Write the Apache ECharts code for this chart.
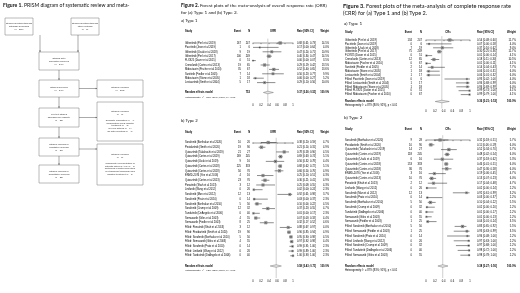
<!DOCTYPE html>
<html>
<head>
<meta charset="utf-8">
<script src="https://cdn.jsdelivr.net/npm/echarts@6/dist/echarts.min.js"></script>
<style>
  html, body { margin: 0; padding: 0; background: #fff; }
  #chart { width: 520px; height: 293px; }
</style>
</head>
<body>
<div id="chart"></div>
<script>
// ===== Figure 2a : ORR, type 1 =====
const studies2a = ['Gilteritinib (Perl et al 2019)', 'Pacritinib (Jeon et al 2019)', 'Gilteritinib (Usuki et al 2018)',
  'Gilteritinib (Perl et al 2017)', 'FLX925 (Daver et al 2015)', 'Crenolanib (Cortes et al 2013)',
  'Midostaurin (Fischer et al 2010)', 'Sunitinib (Fiedler et al 2005)', 'Midostaurin (Stone et al 2005)',
  'Lestaurtinib (Smith et al 2004)'];
const events2a = [167, 1, 9, 100, 0, 19, 35, 7, 1, 5];
const totals2a = [247, 6, 19, 249, 51, 65, 67, 14, 18, 17];
const rate2a = [0.68, 0.17, 0.47, 0.40, 0.00, 0.29, 0.52, 0.50, 0.06, 0.29];
const lo2a = [0.61, 0.00, 0.24, 0.34, 0.00, 0.19, 0.40, 0.23, 0.00, 0.10];
const hi2a = [0.73, 0.64, 0.71, 0.47, 0.07, 0.42, 0.65, 0.77, 0.27, 0.56];
const weight2a = [14.5, 4.0, 10.9, 14.5, 3.5, 13.5, 13.6, 9.9, 5.2, 10.0];
const sum2a = [0.37, 0.26, 0.51];
const het2a = [89, 79, 93];

// ===== Figure 2b : ORR, type 2 =====
const studies2b = ['Sorafenib (Borthakur et al 2020)', 'Pexidartinib (Smith et al 2020)', 'Quizartinib (Takahashi et al 2019)',
  'Quizartinib (Cortes et al 2019)', 'Quizartinib (Usuki et al 2019)', 'Quizartinib (Cortes et al 2018)',
  'Quizartinib (Cortes et al 2018)', 'ENMD-2076 (Yee et al 2016)', 'Quizartinib (Cortes et al 2013)',
  'Ponatinib (Shah et al 2013)', 'Linifanib (Wang et al 2012)', 'Sorafenib (Man et al 2012)',
  'Sorafenib (Pratz et al 2010)', 'Sorafenib (Borthakur et al 2010)', 'Sorafenib (Crump et al 2009)',
  'Tandutinib (DeAngelo et al 2006)', 'Semaxanib (Giles et al 2003)', 'Semaxanib (Fiedler et al 2003)',
  'Filled: Ponatinib (Shah et al 2013)', 'Filled: Pexidartinib (Smith et al 2020)', 'Filled: Sorafenib (Borthakur et al 2010)',
  'Filled: Semaxanib (Giles et al 2003)', 'Filled: Sorafenib (Pratz et al 2010)', 'Filled: Linifanib (Wang et al 2012)',
  'Filled: Tandutinib (DeAngelo et al 2006)'];
const events2b = [10, 19, 21, 169, 9, 225, 50, 4, 23, 3, 0, 12, 0, 5, 12, 0, 4, 8, 3, 19, 5, 4, 0, 0, 0];
const totals2b = [26, 90, 27, 245, 16, 333, 76, 16, 76, 12, 26, 13, 14, 50, 32, 40, 55, 25, 12, 90, 50, 55, 14, 26, 40];
const rate2b = [0.38, 0.21, 0.78, 0.69, 0.56, 0.68, 0.66, 0.25, 0.30, 0.25, 0.02, 0.92, 0.03, 0.10, 0.37, 0.01, 0.07, 0.32,
  0.88, 0.90, 0.95, 0.97, 0.99, 0.99, 1.00];
const lo2b = [0.20, 0.14, 0.58, 0.63, 0.32, 0.62, 0.54, 0.10, 0.21, 0.08, 0.00, 0.61, 0.00, 0.04, 0.23, 0.00, 0.03, 0.17,
  0.67, 0.85, 0.90, 0.92, 0.91, 0.89, 0.93];
const hi2b = [0.59, 0.31, 0.90, 0.74, 0.78, 0.72, 0.76, 0.51, 0.41, 0.55, 0.24, 0.98, 0.37, 0.22, 0.55, 0.17, 0.18, 0.52,
  0.97, 0.94, 0.98, 0.98, 1.00, 1.00, 1.00];
const weight2b = [4.7, 4.9, 4.5, 5.1, 4.4, 5.1, 4.9, 4.3, 4.9, 4.3, 2.3, 3.7, 2.3, 4.5, 4.7, 2.3, 4.4, 4.6,
  4.0, 4.9, 4.5, 4.4, 2.3, 2.3, 2.3];
const sum2b = [0.58, 0.43, 0.71];
const het2b = [93, 92, 95];

// ===== Figure 3a : CRR, type 1 =====
const studies3a = ['Gilteritinib (Perl et al 2019)', 'Pacritinib (Jeon et al 2019)', 'Gilteritinib (Usuki et al 2018)',
  'Gilteritinib (Perl et al 2017)', 'FLX925 (Daver et al 2015)', 'Crenolanib (Cortes et al 2013)',
  'Midostaurin (Fischer et al 2010)', 'Sunitinib (Fiedler et al 2005)', 'Midostaurin (Stone et al 2005)',
  'Lestaurtinib (Smith et al 2004)', 'Filled: Pacritinib (Jeon et al 2019)', 'Filled: Lestaurtinib (Smith et al 2004)',
  'Filled: Midostaurin (Stone et al 2005)', 'Filled: FLX925 (Daver et al 2015)', 'Filled: Midostaurin (Fischer et al 2010)'];
const events3a = [134, 0, 7, 75, 0, 12, 0, 2, 1, 1, 0, 1, 1, 0, 0];
const totals3a = [247, 6, 19, 249, 51, 65, 67, 14, 18, 17, 6, 17, 18, 51, 67];
const rate3a = [0.54, 0.07, 0.37, 0.30, 0.01, 0.18, 0.01, 0.14, 0.06, 0.06, 0.93, 0.94, 0.94, 0.99, 0.99];
const lo3a = [0.48, 0.00, 0.16, 0.25, 0.00, 0.11, 0.00, 0.04, 0.01, 0.01, 0.42, 0.68, 0.69, 0.74, 0.79];
const hi3a = [0.60, 0.58, 0.62, 0.36, 0.14, 0.30, 0.11, 0.43, 0.31, 0.32, 1.00, 0.99, 0.99, 1.00, 1.00];
const weight3a = [11.7, 4.0, 9.4, 11.7, 4.1, 10.5, 4.1, 7.7, 6.0, 6.0, 4.0, 6.0, 6.0, 4.1, 4.1];
const sum3a = [0.36, 0.21, 0.53];
const het3a = [87, 80, 92];

// ===== Figure 3b : CRR, type 2 =====
const studies3b = ['Sorafenib (Borthakur et al 2020)', 'Pexidartinib (Smith et al 2020)', 'Quizartinib (Takahashi et al 2019)',
  'Quizartinib (Cortes et al 2019)', 'Quizartinib (Usuki et al 2019)', 'Quizartinib (Cortes et al 2018)',
  'Quizartinib (Cortes et al 2018)', 'ENMD-2076 (Yee et al 2016)', 'Quizartinib (Cortes et al 2013)',
  'Ponatinib (Shah et al 2013)', 'Linifanib (Wang et al 2012)', 'Sorafenib (Man et al 2012)',
  'Sorafenib (Pratz et al 2010)', 'Sorafenib (Borthakur et al 2010)', 'Sorafenib (Crump et al 2009)',
  'Tandutinib (DeAngelo et al 2006)', 'Semaxanib (Giles et al 2003)', 'Semaxanib (Fiedler et al 2003)',
  'Filled: Sorafenib (Borthakur et al 2010)', 'Filled: Semaxanib (Fiedler et al 2003)', 'Filled: Sorafenib (Pratz et al 2010)',
  'Filled: Linifanib (Wang et al 2012)', 'Filled: Sorafenib (Crump et al 2009)', 'Filled: Tandutinib (DeAngelo et al 2006)',
  'Filled: Semaxanib (Giles et al 2003)'];
const events3b = [9, 10, 14, 118, 6, 153, 36, 3, 10, 2, 0, 12, 0, 5, 0, 0, 0, 1, 5, 1, 0, 0, 0, 0, 0];
const totals3b = [28, 90, 27, 245, 16, 333, 76, 16, 76, 12, 26, 13, 14, 50, 32, 40, 55, 25, 50, 25, 14, 26, 32, 40, 55];
const rate3b = [0.32, 0.11, 0.52, 0.48, 0.37, 0.46, 0.47, 0.19, 0.13, 0.17, 0.02, 0.92, 0.03, 0.10, 0.02, 0.01, 0.01, 0.04,
  0.83, 0.93, 0.94, 0.97, 0.97, 0.98, 0.98];
const lo3b = [0.18, 0.06, 0.34, 0.42, 0.18, 0.41, 0.36, 0.06, 0.07, 0.04, 0.00, 0.61, 0.00, 0.04, 0.00, 0.00, 0.00, 0.01,
  0.65, 0.63, 0.48, 0.63, 0.68, 0.72, 0.78];
const hi3b = [0.51, 0.19, 0.70, 0.54, 0.62, 0.51, 0.58, 0.45, 0.23, 0.48, 0.24, 0.99, 0.37, 0.22, 0.20, 0.17, 0.13, 0.24,
  0.92, 0.99, 1.00, 1.00, 1.00, 1.00, 1.00];
const weight3b = [5.7, 6.0, 5.7, 6.0, 5.3, 6.0, 6.0, 4.7, 6.0, 4.7, 2.2, 3.2, 2.2, 5.5, 2.2, 2.2, 2.2, 3.5,
  5.5, 3.5, 2.2, 2.2, 2.2, 2.2, 2.2];
const sum3b = [0.38, 0.27, 0.50];
const het3b = [87, 83, 91];

// ===== Figure 1 : PRISMA texts =====
const prismaText = [
  'Studies identified through\ndatabase searching\n(n = 256)',
  'Studies identified through\nother methods\n(n = 2)',
  'Studies after\nduplicates removed\n(n = 240)',
  'Studies screened\n(n = 240)',
  'Studies excluded\n(n = 202)',
  'Full-text studies\nassessed for eligibility\n(n = 38)',
  'Studies excluded\n(n = 8)\n\nDuplicate publication (n = 4)\nCombination FLT3 inhibitor\ntreatment (n = 2)\nReview articles (n = 1)\nNo data reporting (n = 1)',
  'Studies included in\nqualitative analysis\n(n = 30)',
  'Studies excluded\n(n = 2)\n\nInadequate representation of\npatients with R/R AML (n = 1)\nOutcomes reported from stem\ncell transplant following FLT3\ninhibitor treatment (n = 1)',
  'Studies included in\nquantitative analysis\n(n = 28)'
];

// ---------------- layout ----------------
const TF = 'Liberation Sans, Arial, sans-serif';
const HF = 'Lato, Open Sans, sans-serif';
const INK = '#000';

// box rectangles [x, y, w, h] for prismaText
const prismaBox = [
  [5, 18, 28, 17], [71, 18, 28, 17], [39, 52, 40, 18], [39, 80, 40, 17], [97, 80, 46, 17],
  [39, 108, 40, 19], [97, 102, 46, 39], [39, 138, 40, 18], [97, 144, 46, 41], [39, 165, 40, 18]
];
// arrows [x1, y1, x2, y2]
const prismaArrow = [
  [40, 35, 40, 52], [78, 35, 78, 52], [59, 70, 59, 80], [79, 88.5, 97, 88.5], [59, 97, 59, 108],
  [79, 117.5, 97, 117.5], [59, 127, 59, 138], [79, 149, 97, 149], [59, 156, 59, 165]
];

const col2 = {study: 185, event: 241, n: 250, p0: 253, p1: 293, rate: 297, weight: 329, fs: 2.6};
const col3 = {study: 345, event: 412, n: 422, p0: 426, p1: 470, rate: 477, weight: 516, fs: 2.7};

const panels = [
  {studies: studies2a, events: events2a, totals: totals2a, rate: rate2a, lo: lo2a, hi: hi2a, weight: weight2a,
    sum: sum2a, het: het2a, total: '753', col: col2, head: 31, first: 43, step: 4.4, sumY: 92.5, hetY: 97, axis: 102.5},
  {studies: studies2b, events: events2b, totals: totals2b, rate: rate2b, lo: lo2b, hi: hi2b, weight: weight2b,
    sum: sum2b, het: het2b, total: '', col: col2, head: 132.5, first: 142.5, step: 4.72, sumY: 266, hetY: 270.5, axis: 278},
  {studies: studies3a, events: events3a, totals: totals3a, rate: rate3a, lo: lo3a, hi: hi3a, weight: weight3a,
    sum: sum3a, het: het3a, total: '', col: col3, head: 32.5, first: 40, step: 3.9, sumY: 101.5, hetY: 105.5, axis: 108.5},
  {studies: studies3b, events: events3b, totals: totals3b, rate: rate3b, lo: lo3b, hi: hi3b, weight: weight3b,
    sum: sum3b, het: het3b, total: '', col: col3, head: 129.5, first: 140, step: 4.8, sumY: 266, hetY: 270.5, axis: 278}
];

const ci = (v, l, h) => v.toFixed(2) + ' [' + l.toFixed(2) + '; ' + h.toFixed(2) + ']';

function txt(x, y, s, align, bold, size) {
  return {
    type: 'text', x: x, y: y, silent: true,
    style: {text: s, fontSize: size, fontFamily: TF, fontWeight: bold ? 'bold' : 'normal',
      fill: INK, align: align, verticalAlign: 'middle'}
  };
}

const grids = [], xAxes = [], yAxes = [], series = [];

panels.forEach((p, gi) => {
  const fs = p.col.fs;
  const yMax = (p.axis - p.first) / p.step;
  grids.push({left: p.col.p0, width: p.col.p1 - p.col.p0, top: p.first - p.step, height: p.axis - p.first + p.step});
  xAxes.push({
    gridIndex: gi, type: 'value', min: 0, max: 1, interval: 0.2,
    axisLine: {lineStyle: {color: '#000', width: 0.4}},
    axisTick: {length: 1.2, lineStyle: {color: '#000', width: 0.4}},
    axisLabel: {fontSize: 2.7, margin: 1.6, color: INK, fontFamily: TF},
    splitLine: {show: false}
  });
  yAxes.push({gridIndex: gi, type: 'value', inverse: true, min: -1, max: yMax, show: false});
  const maxW = Math.max.apply(null, p.weight);

  // vertical line at the pooled estimate
  series.push({
    type: 'custom', xAxisIndex: gi, yAxisIndex: gi, silent: true, z: 1,
    data: [[p.sum[0], -1, yMax]],
    renderItem: (params, api) => {
      const a = api.coord([api.value(0), api.value(1)]);
      const b = api.coord([api.value(0), api.value(2)]);
      return {type: 'line', shape: {x1: a[0], y1: a[1], x2: b[0], y2: b[1]},
        style: {stroke: '#c4c4c4', lineWidth: 0.8}};
    }
  });

  // study rows
  series.push({
    type: 'custom', xAxisIndex: gi, yAxisIndex: gi, silent: true, z: 3,
    data: p.rate.map((r, i) => [i, r, p.lo[i], p.hi[i], p.weight[i]]),
    encode: {x: [1, 2, 3], y: 0},
    renderItem: (params, api) => {
      const i = params.dataIndex;
      const c = api.coord([api.value(1), api.value(0)]);
      const l = api.coord([api.value(2), api.value(0)]);
      const h = api.coord([api.value(3), api.value(0)]);
      const side = 2.9 * Math.sqrt(api.value(4) / maxW);
      const y = c[1];
      return {type: 'group', children: [
        txt(p.col.study, y, p.studies[i], 'left', false, fs),
        txt(p.col.event, y, String(p.events[i]), 'right', false, fs),
        txt(p.col.n, y, String(p.totals[i]), 'right', false, fs),
        txt(p.col.rate, y, ci(api.value(1), api.value(2), api.value(3)), 'left', false, fs),
        txt(p.col.weight, y, api.value(4).toFixed(1) + '%', 'right', false, fs),
        {type: 'line', shape: {x1: l[0], y1: y, x2: h[0], y2: y}, style: {stroke: '#000', lineWidth: 0.45}},
        {type: 'rect', shape: {x: c[0] - side / 2, y: y - side / 2, width: side, height: side},
          style: {fill: '#8a8a8a', stroke: '#555', lineWidth: 0.2}},
        {type: 'rect', shape: {x: c[0] - 0.3, y: y - 0.3, width: 0.6, height: 0.6}, style: {fill: '#000'}}
      ]};
    }
  });

  // pooled (random effects) row and heterogeneity
  const sIdx = (p.sumY - p.first) / p.step;
  const hIdx = (p.hetY - p.first) / p.step;
  series.push({
    type: 'custom', xAxisIndex: gi, yAxisIndex: gi, silent: true, z: 4,
    data: [[sIdx, p.sum[0], p.sum[1], p.sum[2], hIdx]],
    encode: {x: [1, 2, 3], y: 0},
    renderItem: (params, api) => {
      const c = api.coord([api.value(1), api.value(0)]);
      const l = api.coord([api.value(2), api.value(0)]);
      const h = api.coord([api.value(3), api.value(0)]);
      const y = c[1];
      const yh = api.coord([0, api.value(4)])[1];
      return {type: 'group', children: [
        txt(p.col.study, y, 'Random effects model', 'left', true, fs),
        txt(p.col.n, y, p.total, 'right', true, fs),
        txt(p.col.rate, y, ci(api.value(1), api.value(2), api.value(3)), 'left', true, fs),
        txt(p.col.weight, y, '100.0%', 'right', true, fs),
        txt(p.col.study, yh, 'Heterogeneity: I\u00b2 = ' + p.het[0] + '% [' + p.het[1] + '%; ' + p.het[2] + '%], p < 0.01', 'left', false, fs - 0.1),
        {type: 'polygon', shape: {points: [[l[0], y], [c[0], y - 1.3], [h[0], y], [c[0], y + 1.3]]},
          style: {fill: '#e6e6e6', stroke: '#444', lineWidth: 0.35}}
      ]};
    }
  });
});

// ---------------- graphic: titles, headers, PRISMA ----------------
const graphic = [];
function title(x, y, size, bold, rest) {
  graphic.push({type: 'text', x: x, y: y, silent: true,
    style: {text: '{b|' + bold + '}' + rest, fontSize: size, fontFamily: HF, fill: '#111', verticalAlign: 'middle',
      rich: {b: {fontWeight: 'bold', fontSize: size, fontFamily: HF, fill: '#111'}}}});
}
title(3, 5.5, 5.1, 'Figure 1.', ' PRISM diagram of systematic review and meta-');
title(181, 6, 4.6, 'Figure 2.', ' Forest plots of the meta-analysis of overall response rate (ORR)');
title(181, 12.5, 4.6, '', 'for (a) Type 1 and (b) Type 2.');
title(343, 6, 5.6, 'Figure 3.', ' Forest plots of the meta-analysis of complete response rate');
title(343, 13.5, 5.6, '', '(CRR) for (a) Type 1 and (b) Type 2.');

const sub = (x, y, s, size) => graphic.push({type: 'text', x: x, y: y, silent: true,
  style: {text: s, fontSize: size, fontFamily: HF, fill: '#111', verticalAlign: 'middle'}});
sub(181, 21, 'a) Type 1', 4.2);
sub(181, 121, 'b) Type 2', 4.2);
sub(344, 23.5, 'a) Type 1', 4.6);
sub(344, 117.5, 'b) Type 2', 4.6);

panels.forEach((p, k) => {
  const head = k < 2 ? 'ORR' : 'CRs';
  const c = p.col;
  graphic.push(txt(c.study, p.head, 'Study', 'left', true, c.fs));
  graphic.push(txt(c.event, p.head, 'Event', 'right', true, c.fs));
  graphic.push(txt(c.n, p.head, 'N', 'right', true, c.fs));
  graphic.push(txt((c.p0 + c.p1) / 2, p.head, head, 'center', true, c.fs));
  graphic.push(txt(c.rate, p.head, 'Rate [95% CI]', 'left', true, c.fs));
  graphic.push(txt(c.weight, p.head, 'Weight', 'right', true, c.fs));
});

prismaBox.forEach((b, i) => {
  graphic.push({type: 'rect', silent: true, shape: {x: b[0], y: b[1], width: b[2], height: b[3]},
    style: {fill: '#fff', stroke: '#808080', lineWidth: 0.55}});
  graphic.push({type: 'text', silent: true, x: b[0] + b[2] / 2, y: b[1] + b[3] / 2,
    style: {text: prismaText[i], fontSize: 2.3, lineHeight: 2.9, fontFamily: TF, fill: '#333',
      align: 'center', verticalAlign: 'middle'}});
});
prismaArrow.forEach(a => {
  graphic.push({type: 'line', silent: true, shape: {x1: a[0], y1: a[1], x2: a[2], y2: a[3]},
    style: {stroke: '#555', lineWidth: 0.5}});
  const dx = Math.sign(a[2] - a[0]), dy = Math.sign(a[3] - a[1]);
  const pts = dy ? [[a[2], a[3]], [a[2] - 0.8, a[3] - 1.4], [a[2] + 0.8, a[3] - 1.4]]
                 : [[a[2], a[3]], [a[2] - 1.4 * dx, a[3] - 0.8], [a[2] - 1.4 * dx, a[3] + 0.8]];
  graphic.push({type: 'polygon', silent: true, shape: {points: pts}, style: {fill: '#555'}});
});

const chart = echarts.init(document.getElementById('chart'));
chart.setOption({
  animation: false,
  backgroundColor: '#fff',
  grid: grids,
  xAxis: xAxes,
  yAxis: yAxes,
  series: series,
  graphic: graphic
});
</script>
</body>
</html>
